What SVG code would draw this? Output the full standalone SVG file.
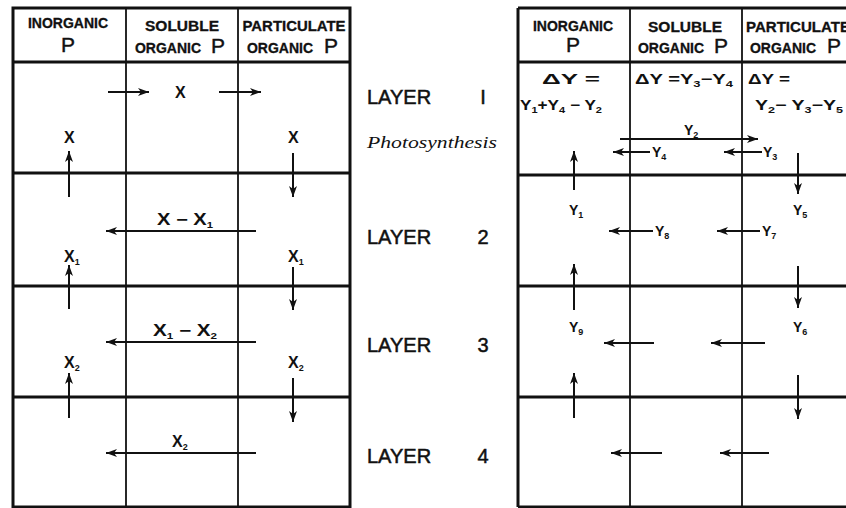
<svg xmlns="http://www.w3.org/2000/svg" width="846" height="508" viewBox="0 0 846 508">
<style>
.frame{fill:none;stroke:#111;stroke-width:3}
.hl{stroke:#111;stroke-width:3}
.vl{stroke:#111;stroke-width:1.8}
.arr{stroke:#111;stroke-width:2;fill:none;marker-end:url(#ah)}
.hd{font-family:"Liberation Sans",Arial,sans-serif;font-weight:bold;font-size:14px;fill:#111;text-anchor:middle;stroke:#111;stroke-width:0.3}
.bigp{font-family:"Liberation Sans",Arial,sans-serif;font-size:21px;fill:#111;stroke:#111;stroke-width:0.4}
.lb{font-family:"Liberation Sans",Arial,sans-serif;font-weight:bold;font-size:16px;fill:#111}
.ys{font-family:"Liberation Sans",Arial,sans-serif;font-weight:bold;font-size:14px;fill:#111}
.sub{font-size:9px}
.layer{font-family:"Liberation Sans",Arial,sans-serif;font-size:20px;fill:#111;stroke:#111;stroke-width:0.5}
.photo{font-family:"Liberation Serif","Times New Roman",serif;font-style:italic;font-size:17px;fill:#111}
</style>
<defs>
<marker id="ah" markerUnits="userSpaceOnUse" markerWidth="12" markerHeight="10" refX="11" refY="5" orient="auto">
<path d="M0,1 L11,5 L0,9 L3,5 Z" fill="#111"/>
</marker>
</defs>

<g id="left-table">
<rect class="frame" x="13" y="8" width="337" height="499"/>
<line class="hl" x1="13" y1="62" x2="350" y2="62"/>
<line class="hl" x1="13" y1="173" x2="350" y2="173"/>
<line class="hl" x1="13" y1="286" x2="350" y2="286"/>
<line class="hl" x1="13" y1="397" x2="350" y2="397"/>
<line class="vl" x1="126" y1="8" x2="126" y2="507"/>
<line class="vl" x1="238" y1="8" x2="238" y2="507"/>
</g>

<g id="left-headers">
<text class="hd" x="68" y="28">INORGANIC</text>
<text class="bigp" x="68" y="52" text-anchor="middle">P</text>
<text class="hd" x="182" y="31" textLength="74" lengthAdjust="spacingAndGlyphs">SOLUBLE</text>
<text class="hd" x="168" y="53">ORGANIC</text>
<text class="bigp" x="218" y="53" text-anchor="middle">P</text>
<text class="hd" x="294" y="31" textLength="103" lengthAdjust="spacingAndGlyphs">PARTICULATE</text>
<text class="hd" x="280" y="53">ORGANIC</text>
<text class="bigp" x="331" y="53" text-anchor="middle">P</text>
</g>

<g id="left-labels">
<text class="lb" x="175" y="98">X</text>
<text class="lb" x="64" y="143">X</text>
<text class="lb" x="288" y="143">X</text>
<text class="lb" x="157" y="225" textLength="56" lengthAdjust="spacingAndGlyphs">X − X<tspan class="sub" dy="3">1</tspan></text>
<text class="lb" x="64" y="262">X<tspan class="sub" dy="3">1</tspan></text>
<text class="lb" x="288" y="262">X<tspan class="sub" dy="3">1</tspan></text>
<text class="lb" x="153" y="336" textLength="64" lengthAdjust="spacingAndGlyphs">X<tspan class="sub" dy="3">1</tspan><tspan dy="-3"> − X</tspan><tspan class="sub" dy="3">2</tspan></text>
<text class="lb" x="64" y="368">X<tspan class="sub" dy="3">2</tspan></text>
<text class="lb" x="288" y="368">X<tspan class="sub" dy="3">2</tspan></text>
<text class="lb" x="172" y="447">X<tspan class="sub" dy="3">2</tspan></text>
</g>

<g id="middle-labels">
<text class="layer" x="367" y="104">LAYER</text><text class="layer" x="483" y="104" text-anchor="middle">I</text>
<text class="photo" x="367" y="148" textLength="130" lengthAdjust="spacingAndGlyphs">Photosynthesis</text>
<text class="layer" x="367" y="244">LAYER</text><text class="layer" x="483" y="244" text-anchor="middle">2</text>
<text class="layer" x="367" y="352">LAYER</text><text class="layer" x="483" y="352" text-anchor="middle">3</text>
<text class="layer" x="367" y="463">LAYER</text><text class="layer" x="483" y="463" text-anchor="middle">4</text>
</g>

<g id="right-table">
<line class="hl" x1="518" y1="8" x2="846" y2="8"/>
<line class="hl" x1="518" y1="507" x2="846" y2="507"/>
<line class="hl" x1="518" y1="8" x2="518" y2="507"/>
<line class="hl" x1="518" y1="62" x2="846" y2="62"/>
<line class="hl" x1="518" y1="175" x2="846" y2="175"/>
<line class="hl" x1="518" y1="286" x2="846" y2="286"/>
<line class="hl" x1="518" y1="397" x2="846" y2="397"/>
<line class="vl" x1="630" y1="8" x2="630" y2="507"/>
<line class="vl" x1="742" y1="8" x2="742" y2="507"/>
</g>

<g id="right-headers">
<text class="hd" x="573" y="31">INORGANIC</text>
<text class="bigp" x="573" y="52" text-anchor="middle">P</text>
<text class="hd" x="685" y="32" textLength="74" lengthAdjust="spacingAndGlyphs">SOLUBLE</text>
<text class="hd" x="671" y="53">ORGANIC</text>
<text class="bigp" x="721" y="53" text-anchor="middle">P</text>
<text class="hd" x="798" y="32" textLength="104" lengthAdjust="spacingAndGlyphs">PARTICULATE</text>
<text class="hd" x="783" y="53">ORGANIC</text>
<text class="bigp" x="834" y="53" text-anchor="middle">P</text>
</g>

<g id="right-labels">
<text class="ys" x="542" y="84" textLength="58" lengthAdjust="spacingAndGlyphs">ΔY  =</text>
<text class="ys" x="520" y="110" textLength="82" lengthAdjust="spacingAndGlyphs">Y<tspan class="sub" dy="3">1</tspan><tspan dy="-3">+Y</tspan><tspan class="sub" dy="3">4</tspan><tspan dy="-3"> − Y</tspan><tspan class="sub" dy="3">2</tspan></text>
<text class="ys" x="635" y="84" textLength="98" lengthAdjust="spacingAndGlyphs">ΔY  =Y<tspan class="sub" dy="3">3</tspan><tspan dy="-3">−Y</tspan><tspan class="sub" dy="3">4</tspan></text>
<text class="ys" x="748" y="84" textLength="42" lengthAdjust="spacingAndGlyphs">ΔY   =</text>
<text class="ys" x="755" y="110" textLength="88" lengthAdjust="spacingAndGlyphs">Y<tspan class="sub" dy="3">2</tspan><tspan dy="-3">− Y</tspan><tspan class="sub" dy="3">3</tspan><tspan dy="-3">−Y</tspan><tspan class="sub" dy="3">5</tspan></text>
<text class="ys" x="684" y="135">Y<tspan class="sub" dy="3">2</tspan></text>
<text class="ys" x="652" y="157">Y<tspan class="sub" dy="3">4</tspan></text>
<text class="ys" x="763" y="157">Y<tspan class="sub" dy="3">3</tspan></text>
<text class="ys" x="569" y="215">Y<tspan class="sub" dy="3">1</tspan></text>
<text class="ys" x="793" y="215">Y<tspan class="sub" dy="3">5</tspan></text>
<text class="ys" x="655" y="236">Y<tspan class="sub" dy="3">8</tspan></text>
<text class="ys" x="762" y="236">Y<tspan class="sub" dy="3">7</tspan></text>
<text class="ys" x="569" y="332">Y<tspan class="sub" dy="3">9</tspan></text>
<text class="ys" x="793" y="332">Y<tspan class="sub" dy="3">6</tspan></text>
</g>

<g id="connectors">
<line class="arr" x1="108" y1="92" x2="149" y2="92"/>
<line class="arr" x1="219" y1="92" x2="261" y2="92"/>
<line class="arr" x1="69" y1="197" x2="69" y2="151"/>
<line class="arr" x1="293" y1="153" x2="293" y2="197"/>
<line class="arr" x1="256" y1="231" x2="106" y2="231"/>
<line class="arr" x1="69" y1="309" x2="69" y2="265"/>
<line class="arr" x1="293" y1="267" x2="293" y2="310"/>
<line class="arr" x1="256" y1="342" x2="106" y2="342"/>
<line class="arr" x1="69" y1="418" x2="69" y2="373"/>
<line class="arr" x1="293" y1="378" x2="293" y2="422"/>
<line class="arr" x1="256" y1="453" x2="106" y2="453"/>
<line class="arr" x1="620" y1="139" x2="758" y2="139"/>
<line class="arr" x1="650" y1="152" x2="613" y2="152"/>
<line class="arr" x1="762" y1="152" x2="724" y2="152"/>
<line class="arr" x1="574" y1="190" x2="574" y2="151"/>
<line class="arr" x1="798" y1="153" x2="798" y2="194"/>
<line class="arr" x1="653" y1="231" x2="609" y2="231"/>
<line class="arr" x1="760" y1="231" x2="717" y2="231"/>
<line class="arr" x1="574" y1="310" x2="574" y2="264"/>
<line class="arr" x1="798" y1="266" x2="798" y2="308"/>
<line class="arr" x1="654" y1="343" x2="604" y2="343"/>
<line class="arr" x1="765" y1="343" x2="711" y2="343"/>
<line class="arr" x1="574" y1="418" x2="574" y2="373"/>
<line class="arr" x1="798" y1="375" x2="798" y2="419"/>
<line class="arr" x1="662" y1="453" x2="611" y2="453"/>
<line class="arr" x1="769" y1="453" x2="720" y2="453"/>
</g>
</svg>
